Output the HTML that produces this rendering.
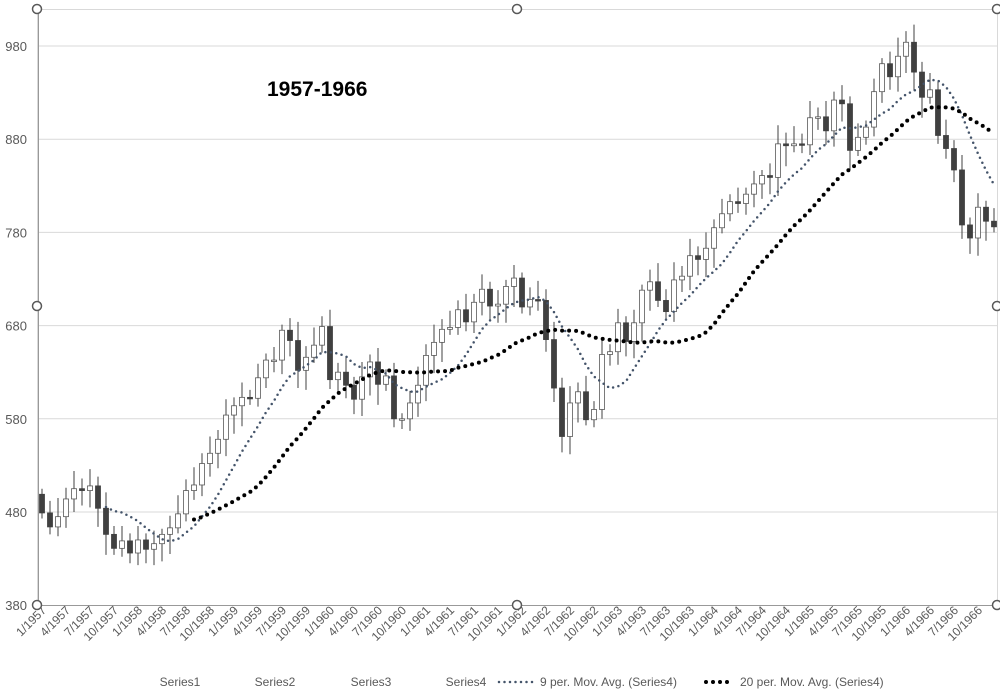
<!DOCTYPE html>
<html><head><meta charset="utf-8"><style>
html,body{margin:0;padding:0;background:#fff;}
svg{display:block;font-family:"Liberation Sans",sans-serif;}
</style></head><body>
<svg id="s" width="1000" height="698" xmlns="http://www.w3.org/2000/svg"></svg>
<script>
const C=[479,464,475,494,505,503,508,484,456,441,449,436,
450,440,446,456,463,478,503,509,532,543,558,584,
594,603,602,624,643,643,675,664,632,646,659,679,
622,630,616,601,625,641,617,626,580,580,597,616,
648,662,676,678,697,684,705,719,701,703,722,731,
700,708,707,665,613,561,597,609,579,590,649,652,
683,663,683,718,727,707,695,729,733,755,751,763,
785,800,813,811,821,832,841,839,875,873,875,874,
903,904,889,922,918,868,882,893,931,961,947,969,
984,952,925,933,884,870,847,788,774,807,792,786];
const Y=v=>46+(980-v)*0.932, X=i=>42+8*i;
let h='';
h+='<rect x="37.5" y="9.5" width="960" height="596" fill="none" stroke="#d9d9d9"/>';
for(let v=480;v<=980;v+=100){h+=`<line x1="38" x2="998" y1="${Y(v)}" y2="${Y(v)}" stroke="#d9d9d9"/>`;}
for(let v=380;v<=980;v+=100){h+=`<text x="27" y="${Y(v)+5}" font-size="13" fill="#595959" text-anchor="end">${v}</text>`;}
h+='<line x1="38.5" x2="38.5" y1="9" y2="605" stroke="#999"/><line x1="38" x2="998" y1="605.5" y2="605.5" stroke="#999"/>';
for(let i=0;i<120;i++){const o=i?C[i-1]:499,c=C[i];const hi=Math.max(o,c)+6+(i*37%15),lo=Math.min(o,c)-6-(i*53%17);
const x=X(i);h+=`<line x1="${x}" x2="${x}" y1="${Y(hi)}" y2="${Y(lo)}" stroke="#404040" stroke-width="1"/>`;
const t=Y(Math.max(o,c)),b=Y(Math.min(o,c));const up=c>=o;
h+=`<rect x="${x-2.5}" y="${t}" width="5" height="${Math.max(b-t,1.5)}" fill="${up?'#fff':'#404040'}" stroke="${up?'#595959':'#404040'}" stroke-width="0.8"/>`;}
function ma(n,col,w,gap){let p=[];for(let i=n-1;i<120;i++){let s=0;for(let k=0;k<n;k++)s+=C[i-k];p.push(X(i)+','+Y(s/n));}
return `<polyline points="${p.join(' ')}" fill="none" stroke="${col}" stroke-width="${w}" stroke-linecap="round" stroke-dasharray="0 ${gap}"/>`;}
h+=ma(9,'#44546A',2.5,5.5);h+=ma(20,'#000',4,7);
h+='<text x="267" y="96" font-size="21" font-weight="bold" fill="#000">1957-1966</text>';
const m=['1','4','7','10'];
for(let k=0;k<40;k++){const lab=m[k%4]+'/'+(1957+Math.floor(k/4));const x=X(3*k)+5,y=611;
h+=`<text x="${x}" y="${y}" font-size="12" fill="#595959" text-anchor="end" transform="rotate(-45 ${x} ${y})">${lab}</text>`;}
const L=[['Series1',180],['Series2',275],['Series3',371],['Series4',466]];
for(const [t,x] of L)h+=`<text x="${x}" y="686" font-size="12" fill="#595959" text-anchor="middle">${t}</text>`;
h+='<line x1="499" x2="535" y1="682" y2="682" stroke="#44546A" stroke-width="2.5" stroke-linecap="round" stroke-dasharray="0 5.5"/>';
h+='<text x="540" y="686" font-size="12" fill="#595959">9 per. Mov. Avg. (Series4)</text>';
h+='<line x1="706" x2="734" y1="682" y2="682" stroke="#000" stroke-width="4" stroke-linecap="round" stroke-dasharray="0 7"/>';
h+='<text x="740" y="686" font-size="12" fill="#595959">20 per. Mov. Avg. (Series4)</text>';
for(const [x,y] of [[37,9],[517,9],[997,9],[37,306],[997,306],[37,605],[517,605],[997,605]])
h+=`<circle cx="${x}" cy="${y}" r="4.5" fill="#fff" stroke="#595959" stroke-width="1.5"/>`;
document.getElementById('s').innerHTML=h;
</script>
</body></html>
